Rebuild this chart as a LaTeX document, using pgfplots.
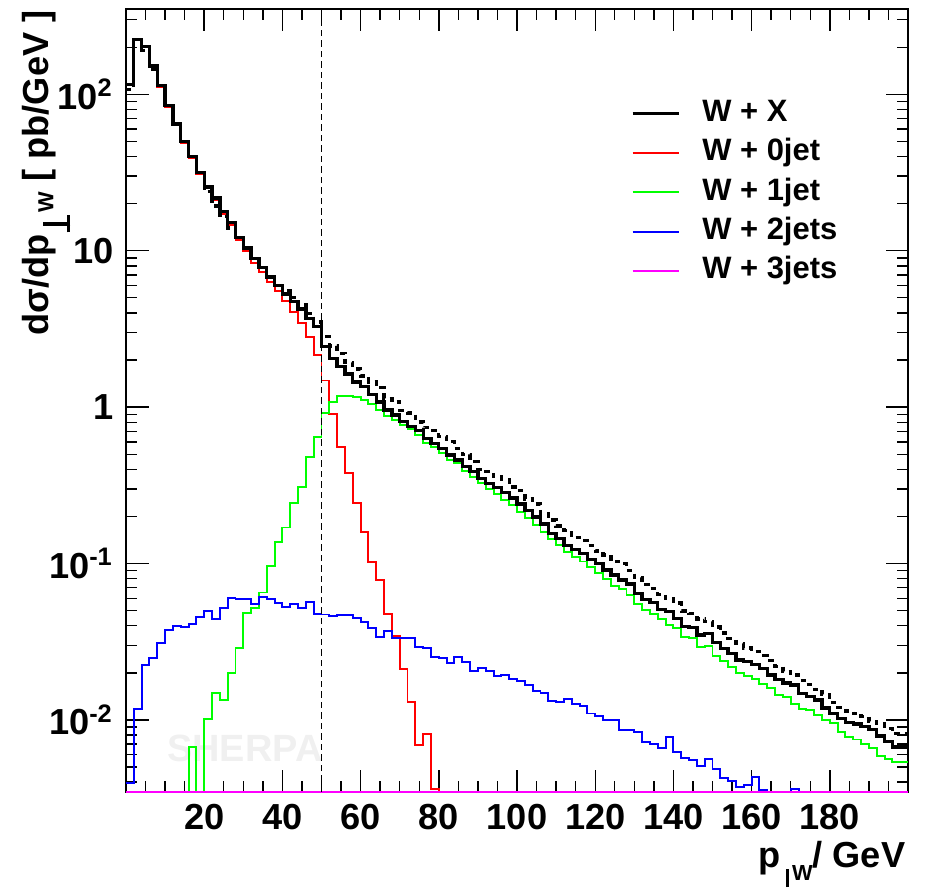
\documentclass[border=0pt]{standalone}
\usepackage{fontspec}
\setmainfont{Liberation Sans}
\usepackage{pgfplots}
\usepackage{pgfplotstable}
\pgfplotsset{compat=1.18}
\definecolor{rootred}{RGB}{255,0,0}
\definecolor{rootgreen}{RGB}{0,255,0}
\definecolor{rootblue}{RGB}{0,0,255}
\definecolor{rootmag}{RGB}{255,0,255}

% ROOT-style perp sign in the axis labels
\newcommand{\perpy}{\hspace{0.02cm}\raisebox{-0.22cm}{\rule{0.17cm}{0.035cm}}\hspace{-0.1025cm}\raisebox{-0.22cm}{\rule{0.035cm}{0.27cm}}\hspace{0.1cm}}
\newcommand{\perpx}{\hspace{0.06cm}\raisebox{-0.2cm}{\rule{0.03cm}{0.18cm}}\hspace{0.03cm}}

% bin left edges (2 GeV bins); last row repeats the last bin to close the step
% bs = W+X, bd = W+X (dashed), w0..w3 = W + 0,1,2,3 jets ; 0.001 = empty bin
\pgfplotstableread{
x bs bd w0 w1 w2 w3
0 115 107 114 0.001 0.00393 0.00347
2 223 223 221 0.001 0.0117 0.00347
4 203 191 201 0.001 0.0225 0.00347
6 152 144 150 0.001 0.0248 0.00347
8 114 114 112 0.001 0.0312 0.00347
10 84.5 84.5 83 0.001 0.0376 0.00347
12 64.6 64 63.5 0.001 0.0398 0.00347
14 50 50 49 0.001 0.0394 0.00347
16 40 40 39 0.0067 0.041 0.00347
18 31.7 31.7 31 0.001 0.0457 0.00347
20 25.6 23.8 25 0.0101 0.0497 0.00347
22 21.7 19.3 21 0.0149 0.0443 0.00347
24 17.8 16.5 17.2 0.0134 0.0521 0.00347
26 15.2 14.0 14.6 0.020 0.0604 0.00347
28 12.2 12.2 11.7 0.029 0.059 0.00347
30 10.4 10.4 9.9 0.0485 0.059 0.00347
32 8.9 8.9 8.4 0.052 0.0553 0.00347
34 7.8 7.8 7.3 0.0653 0.0614 0.00347
36 6.8 6.8 6.3 0.096 0.0593 0.00347
38 6.0 6.0 5.5 0.137 0.0557 0.00347
40 5.3 5.55 4.77 0.170 0.0525 0.00347
42 4.75 5.0 4.07 0.245 0.0548 0.00347
44 4.25 4.5 3.44 0.31 0.0521 0.00347
46 3.7 3.95 2.79 0.482 0.057 0.00347
48 3.27 3.5 2.15 0.647 0.0475 0.00347
50 2.43 2.82 1.48 0.912 0.0472 0.00347
52 2.05 2.46 0.90 1.08 0.0462 0.00347
54 1.81 2.21 0.553 1.18 0.0469 0.00347
56 1.63 1.92 0.38 1.18 0.0469 0.00347
58 1.45 1.75 0.245 1.16 0.0447 0.00347
60 1.35 1.58 0.16 1.11 0.0425 0.00347
62 1.21 1.45 0.102 1.05 0.0389 0.00347
64 1.08 1.33 0.079 0.957 0.0341 0.00347
66 0.957 1.14 0.0474 0.877 0.0372 0.00347
68 0.89 1.08 0.0344 0.826 0.0333 0.00347
70 0.807 0.952 0.0211 0.767 0.0336 0.00347
72 0.75 0.915 0.0131 0.721 0.0336 0.00347
74 0.706 0.805 0.0069 0.663 0.0294 0.00347
76 0.631 0.738 0.0081 0.592 0.029 0.00347
78 0.587 0.710 0.0036 0.553 0.0254 0.00347
80 0.545 0.649 0.001 0.511 0.025 0.00347
82 0.494 0.603 0.001 0.459 0.0232 0.00347
84 0.459 0.542 0.001 0.437 0.0254 0.00347
86 0.416 0.499 0.001 0.392 0.0236 0.00347
88 0.386 0.448 0.001 0.359 0.0206 0.00347
90 0.351 0.400 0.001 0.326 0.0216 0.00347
92 0.326 0.388 0.001 0.300 0.0205 0.00347
94 0.307 0.359 0.001 0.280 0.0191 0.00347
96 0.285 0.345 0.001 0.256 0.0194 0.00347
98 0.262 0.309 0.001 0.236 0.0183 0.00347
100 0.240 0.293 0.001 0.215 0.0178 0.00347
102 0.218 0.259 0.001 0.196 0.0167 0.00347
104 0.198 0.240 0.001 0.177 0.0153 0.00347
106 0.179 0.209 0.001 0.160 0.0149 0.00347
108 0.156 0.190 0.001 0.143 0.0133 0.00347
110 0.145 0.174 0.001 0.131 0.0131 0.00347
112 0.131 0.162 0.001 0.119 0.0137 0.00347
114 0.123 0.146 0.001 0.110 0.0126 0.00347
116 0.116 0.140 0.001 0.103 0.0123 0.00347
118 0.106 0.130 0.001 0.0946 0.0110 0.00347
120 0.100 0.120 0.001 0.0874 0.0106 0.00347
122 0.0908 0.1135 0.001 0.0796 0.00998 0.00347
124 0.0845 0.103 0.001 0.0722 0.00998 0.00347
126 0.0785 0.0997 0.001 0.0684 0.0086 0.00347
128 0.074 0.0903 0.001 0.0629 0.0086 0.00347
130 0.0645 0.0813 0.001 0.0551 0.0084 0.00347
132 0.059 0.0732 0.001 0.0504 0.00726 0.00347
134 0.0561 0.0690 0.001 0.0476 0.00702 0.00347
136 0.0509 0.0636 0.001 0.044 0.00658 0.00347
138 0.0492 0.0595 0.001 0.0404 0.00774 0.00347
140 0.0447 0.0559 0.001 0.0385 0.00627 0.00347
142 0.0395 0.0498 0.001 0.0337 0.00568 0.00347
144 0.0391 0.0477 0.001 0.0332 0.00555 0.00347
146 0.0349 0.0443 0.001 0.0294 0.0051 0.00347
148 0.0358 0.0426 0.001 0.0298 0.00562 0.00347
150 0.0312 0.0393 0.001 0.0256 0.00483 0.00347
152 0.0287 0.0359 0.001 0.0238 0.00423 0.00347
154 0.0267 0.0331 0.001 0.0219 0.00409 0.00347
156 0.0242 0.0307 0.001 0.020 0.00374 0.00347
158 0.0236 0.0288 0.001 0.0191 0.00384 0.00347
160 0.0226 0.0273 0.001 0.0183 0.00433 0.00347
162 0.0214 0.0257 0.001 0.0170 0.00356 0.00347
164 0.0194 0.0241 0.001 0.0159 0.001 0.00347
166 0.0182 0.0220 0.001 0.0144 0.001 0.00347
168 0.0172 0.0205 0.001 0.0141 0.001 0.00347
170 0.0167 0.0194 0.001 0.0126 0.0036 0.00347
172 0.0148 0.0179 0.001 0.0117 0.001 0.00347
174 0.0141 0.0168 0.001 0.0116 0.001 0.00347
176 0.0134 0.0157 0.001 0.0107 0.001 0.00347
178 0.0119 0.0145 0.001 0.0100 0.001 0.00347
180 0.0110 0.0129 0.001 0.0095 0.001 0.00347
182 0.0102 0.0120 0.001 0.0084 0.001 0.00347
184 0.0096 0.0114 0.001 0.0078 0.001 0.00347
186 0.0094 0.0110 0.001 0.0075 0.001 0.00347
188 0.0091 0.0105 0.001 0.0070 0.001 0.00347
190 0.0087 0.0098 0.001 0.00658 0.001 0.00347
192 0.0079 0.0095 0.001 0.00587 0.001 0.00347
194 0.0073 0.0088 0.001 0.00562 0.001 0.00347
196 0.0067 0.0082 0.001 0.0054 0.001 0.00347
198 0.0067 0.0082 0.001 0.00536 0.001 0.00347
200 0.0067 0.0082 0.001 0.00536 0.001 0.00347
}\histo

\begin{document}
\begin{tikzpicture}
  \begin{axis}[
    scale only axis, width=7.82cm, height=7.83cm,
    ymode=log, xmin=0, xmax=200, ymin=0.00346, ymax=351,
    xtick={20,40,...,180}, minor xtick={5,10,...,195},
    ytick={0.01,0.1,1,10,100},
    yticklabels={10\textsuperscript{-2},10\textsuperscript{-1},1,10,10\textsuperscript{2}},
    minor ytick={0.004,0.005,0.006,0.007,0.008,0.009,
                 0.02,0.03,0.04,0.05,0.06,0.07,0.08,0.09,
                 0.2,0.3,0.4,0.5,0.6,0.7,0.8,0.9,
                 2,3,4,5,6,7,8,9,20,30,40,50,60,70,80,90,200,300},
    tick align=inside, xtick pos=both, ytick pos=both,
    major tick length=0.225cm, minor tick length=0.11cm,
    every tick/.style={black, line width=0.4pt},
    axis line style={line width=0.45pt},
    /pgf/number format/assume math mode=true,
    ticklabel style={font=\fontsize{10.3}{12}\selectfont\bfseries},
    every axis x label/.style={at={(axis description cs:0.9974,-0.0958)},
      anchor=base east, inner sep=0pt, font=\fontsize{10.3}{12}\selectfont\bfseries},
    every axis y label/.style={at={(axis description cs:-0.0994,0.999)},
      rotate=90, anchor=base east, inner sep=0pt, font=\fontsize{10.3}{12}\selectfont\bfseries},
    xlabel={p\perpx\raisebox{-0.13cm}{\fontsize{6.2}{7}\selectfont W}/ GeV},
    ylabel={dσ/dp\perpy\raisebox{-0.05cm}{\fontsize{6.2}{7}\selectfont W}\ [ pb/GeV ]},
    legend style={draw=none, fill=none, inner sep=0pt, outer sep=0pt,
      at={(axis description cs:0.6458,0.8906)}, anchor=north west,
      font=\fontsize{8.8}{10}\selectfont\bfseries, row sep=0.013cm,
      nodes={text height=0.22cm, text depth=0.06cm, inner sep=0.05cm},
      /tikz/every odd column/.append style={column sep=0.17cm}},
    legend cell align=left,
    legend image code/.code={\draw[#1] (0cm,0cm) -- (0.46cm,0cm);},
  ]
    \node[text=black!6, font=\fontsize{10.8}{12}\selectfont\bfseries]
      at (axis cs:30.4,0.0066) {SHERPA};
    \addplot[const plot mark left, black, line width=0.95pt] table[x=x,y=bs]{\histo};
    \addlegendentry{W + X}
    \addplot[const plot mark left, rootred, line width=0.55pt] table[x=x,y=w0]{\histo};
    \addlegendentry{W + 0jet}
    \addplot[const plot mark left, rootgreen, line width=0.55pt] table[x=x,y=w1]{\histo};
    \addlegendentry{W + 1jet}
    \addplot[const plot mark left, rootblue, line width=0.55pt] table[x=x,y=w2]{\histo};
    \addlegendentry{W + 2jets}
    \addplot[const plot mark left, rootmag, line width=0.55pt] table[x=x,y=w3]{\histo};
    \addlegendentry{W + 3jets}
    \addplot[const plot mark left, black, line width=0.95pt,
      dash pattern=on 0.055cm off 0.05cm, forget plot] table[x=x,y=bd]{\histo};
    \addplot[const plot mark left, black, line width=0.95pt, forget plot]
      table[x=x,y=bs]{\histo};
    \addplot[black, line width=0.3pt, dash pattern=on 0.065cm off 0.04cm, forget plot]
      coordinates {(50,0.00346) (50,351)};
  \end{axis}
  \path ([shift={(-1.26cm,-0.95cm)}]current axis.south west)
    rectangle ([shift={(0.17cm,0.09cm)}]current axis.north east);
\end{tikzpicture}
\end{document}
